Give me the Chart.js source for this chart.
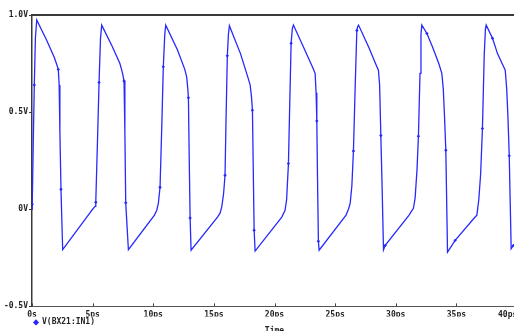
<!DOCTYPE html>
<html>
<head>
<meta charset="utf-8">
<script src="https://cdn.jsdelivr.net/npm/chart.js@4.4.1/dist/chart.umd.min.js"></script>
<style>
html,body{margin:0;padding:0;background:#fff;overflow:hidden;}
#wrap{width:514px;height:331px;overflow:hidden;position:relative;}
canvas{display:block;}
</style>
</head>
<body>
<div id="wrap"><canvas id="c" width="530" height="336" style="width:530px;height:336px"></canvas></div>
<script>
// ---- data (time in ps, voltage in V) ----
const seriesName = 'V(BX21:IN1)';
const lineT = [
  0, 0.02, 0.1, 0.19, 0.28, 0.39, 1.21, 1.85, 2.04, 2.17, 2.24, 2.3, 2.39, 2.53,
  4.7, 5.0, 5.2, 5.26, 5.4, 5.53, 5.65, 5.75,
  6.6, 7.25, 7.4, 7.5, 7.59, 7.66, 7.73, 7.95,
  10.1, 10.29, 10.42, 10.56, 10.7, 10.83, 10.95, 11.03,
  12.0, 12.6, 12.76, 12.85, 12.9, 12.97, 13.04, 13.12,
  15.3, 15.51, 15.65, 15.8, 15.92, 16.0, 16.11, 16.2, 16.28,
  17.2, 17.8, 17.99, 18.1, 18.18, 18.25, 18.32, 18.40,
  20.6, 20.87, 21.0, 21.15, 21.26, 21.37, 21.47, 21.56,
  22.5, 23.15, 23.35, 23.43, 23.49, 23.55, 23.62, 23.68,
  25.9, 26.1, 26.24, 26.38, 26.51, 26.65, 26.79, 26.86, 26.93,
  27.8, 28.4, 28.57, 28.67, 28.77, 28.88, 28.99, 29.13,
  31.1, 31.3, 31.46, 31.6, 31.75, 31.87, 32.0, 32.08, 32.15,
  32.57, 33.0, 33.55, 33.8, 33.92, 34.02, 34.13, 34.27, 34.9,
  36.4, 36.69, 36.85, 37.0, 37.15, 37.3, 37.4, 37.46,
  37.98, 38.4, 38.85, 39.03, 39.15, 39.25, 39.36, 39.52, 39.71, 40.2
];
const lineV = [
  0.0, 0.026, 0.33, 0.64, 0.88, 0.974, 0.87, 0.78, 0.745, 0.72, 0.64, 0.40, 0.103, -0.208,
  -0.025, 0.0, 0.015, 0.036, 0.35, 0.653, 0.88, 0.948,
  0.84, 0.75, 0.716, 0.69, 0.66, 0.40, 0.033, -0.208,
  -0.03, -0.005, 0.03, 0.113, 0.42, 0.733, 0.9, 0.948,
  0.82, 0.72, 0.68, 0.62, 0.574, 0.25, -0.045, -0.211,
  -0.04, -0.02, 0.012, 0.08, 0.175, 0.45, 0.79, 0.9, 0.945,
  0.8, 0.68, 0.64, 0.58, 0.51, 0.2, -0.108, -0.215,
  -0.04, -0.005, 0.05, 0.235, 0.55, 0.854, 0.93, 0.948,
  0.82, 0.73, 0.70, 0.6, 0.454, 0.15, -0.165, -0.211,
  -0.03, 0.0, 0.03, 0.12, 0.30, 0.62, 0.92, 0.94, 0.948,
  0.83, 0.74, 0.716, 0.64, 0.38, 0.1, -0.208, -0.186,
  -0.03, -0.01, 0.005, 0.06, 0.2, 0.376, 0.7, 0.9, 0.948,
  0.905, 0.84, 0.75, 0.70, 0.62, 0.48, 0.304, -0.22, -0.16,
  -0.05, -0.03, 0.05, 0.18, 0.416, 0.8, 0.93, 0.948,
  0.88, 0.8, 0.74, 0.716, 0.62, 0.48, 0.275, -0.203, -0.186, -0.15
];
const markT = [0.02, 0.19, 2.17, 2.39, 5.26, 5.53, 7.59, 7.73, 10.56, 10.83, 12.9, 13.04,
  15.92, 16.11, 18.18, 18.32, 21.15, 21.37, 23.49, 23.62, 26.51, 26.79, 28.77, 29.13,
  31.87, 32.57, 34.13, 34.9, 37.15, 37.98, 39.36, 39.71];
const markV = [0.026, 0.64, 0.72, 0.103, 0.036, 0.653, 0.66, 0.033, 0.113, 0.733, 0.574, -0.045,
  0.175, 0.79, 0.51, -0.108, 0.235, 0.854, 0.454, -0.165, 0.30, 0.92, 0.38, -0.186,
  0.376, 0.905, 0.304, -0.16, 0.416, 0.88, 0.275, -0.186];
const xTickValues = [0, 5, 10, 15, 20, 25, 30, 35, 40];
const xTickLabels = ['0s', '5ps', '10ps', '15ps', '20ps', '25ps', '30ps', '35ps', '40ps'];
const yTickValues = [-0.5, 0, 0.5, 1.0];
const yTickLabels = ['-0.5V', '0V', '0.5V', '1.0V'];
const xTitle = 'Time';

// ---- chart ----
const BLUE = 'rgb(40,40,255)';
const AXIS = '#3a3a3a';
const TEXT = '#222';
const FONT = {family: '"DejaVu Sans Mono", monospace', size: 8, weight: 'bold'};

const frame = {
  id: 'frame',
  afterDraw(chart) {
    const {ctx, chartArea: a, scales: {x}} = chart;
    ctx.save();
    // top border
    ctx.strokeStyle = AXIS;
    ctx.lineWidth = 2;
    ctx.beginPath();
    ctx.moveTo(a.left, a.top);
    ctx.lineTo(a.right + 20, a.top);
    ctx.stroke();
    // inward x ticks
    ctx.lineWidth = 1;
    ctx.strokeStyle = '#444';
    ctx.beginPath();
    xTickValues.forEach(v => {
      const px = Math.round(x.getPixelForValue(v)) + 0.5;
      ctx.moveTo(px, a.bottom);
      ctx.lineTo(px, a.bottom - 3);
    });
    ctx.stroke();
    // last x label, pulled left so it stays (mostly) in view
    const last = xTickValues.length - 1;
    ctx.font = 'bold 8px "DejaVu Sans Mono", monospace';
    ctx.fillStyle = TEXT;
    ctx.textAlign = 'left';
    ctx.textBaseline = 'middle';
    ctx.fillText(xTickLabels[last], x.getPixelForValue(xTickValues[last]) - 19, a.bottom + 9);
    ctx.restore();
  }
};

new Chart(document.getElementById('c'), {
  type: 'scatter',
  data: {
    datasets: [
      {
        label: seriesName,
        data: lineT.map((t, i) => ({x: t, y: lineV[i]})),
        showLine: true,
        borderColor: BLUE,
        backgroundColor: BLUE,
        borderWidth: 1.3,
        pointRadius: 0,
        pointStyle: 'rectRot',
        tension: 0
      },
      {
        label: 'markers',
        data: markT.map((t, i) => ({x: t, y: markV[i]})),
        showLine: false,
        pointStyle: 'rectRot',
        pointRadius: 1.7,
        borderWidth: 0,
        backgroundColor: BLUE,
        borderColor: BLUE
      }
    ]
  },
  options: {
    responsive: false,
    animation: false,
    devicePixelRatio: 1,
    layout: {padding: {top: 15, left: 0, right: 13, bottom: 0}},
    plugins: {
      tooltip: {enabled: false},
      legend: {
        display: true,
        position: 'bottom',
        align: 'start',
        fullSize: false,
        maxHeight: 10,
        labels: {
          font: FONT,
          color: TEXT,
          usePointStyle: true,
          boxWidth: 4,
          boxHeight: 3,
          padding: 2,
          filter: item => item.datasetIndex === 0
        }
      },
      title: {
        display: true,
        text: xTitle,
        position: 'bottom',
        fullSize: false,
        align: 'center',
        font: FONT,
        color: TEXT,
        padding: {top: 0, bottom: 0}
      }
    },
    scales: {
      x: {
        type: 'linear',
        min: 0,
        max: 40,
        afterBuildTicks: s => { s.ticks = xTickValues.map(v => ({value: v})); },
        afterFit: s => { s.height = 10; s.paddingLeft = 0; s.paddingRight = 0; },
        ticks: {
          font: FONT,
          color: TEXT,
          padding: 4,
          maxRotation: 0,
          autoSkip: false,
          callback: (v, i) => (i === xTickValues.length - 1 ? '' : xTickLabels[i])
        },
        grid: {display: true, drawOnChartArea: false, drawTicks: false, color: AXIS},
        border: {display: true, color: '#555', width: 1}
      },
      y: {
        type: 'linear',
        min: -0.5,
        max: 1.0,
        afterBuildTicks: s => { s.ticks = yTickValues.map(v => ({value: v})); },
        afterFit: s => { s.width = 32; s.paddingTop = 0; s.paddingBottom = 0; },
        ticks: {
          font: FONT,
          color: TEXT,
          padding: 1,
          autoSkip: false,
          callback: (v, i) => yTickLabels[i]
        },
        grid: {display: true, drawOnChartArea: false, drawTicks: true, tickLength: 3, color: AXIS, tickWidth: 1},
        border: {display: true, color: AXIS, width: 1.5}
      }
    }
  },
  plugins: [frame]
});
</script>
</body>
</html>
